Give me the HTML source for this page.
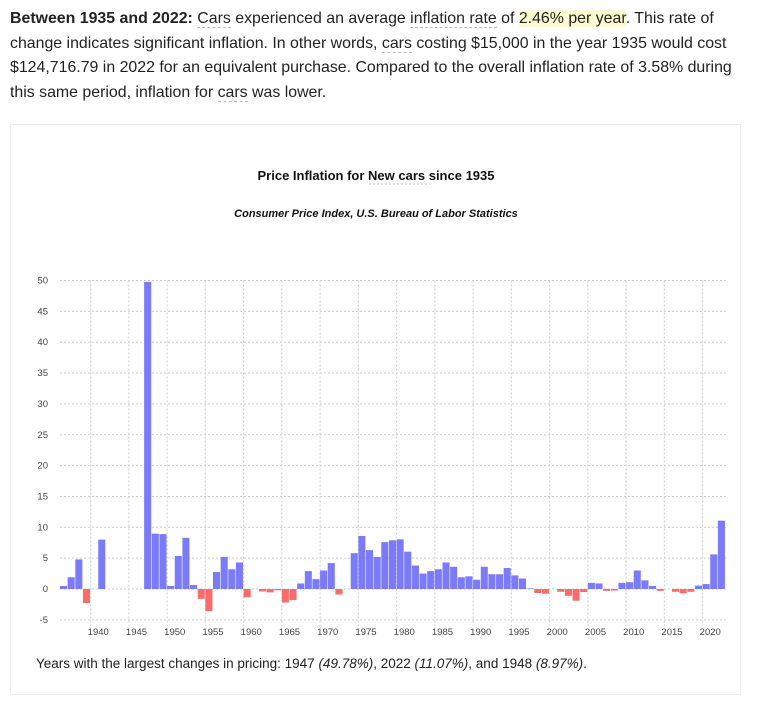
<!DOCTYPE html>
<html><head><meta charset="utf-8">
<style>
body{margin:0;width:765px;height:707px;background:#fff;font-family:"Liberation Sans",sans-serif;color:#222;overflow:hidden;position:relative}
#intro{position:absolute;left:10px;top:7px;width:728px;font-size:15.9px;line-height:24.5px;margin:0}
.u{border-bottom:1px dashed #bbb}
.hl{background:#fdfbd0}
#card{position:absolute;left:10px;top:124px;width:731px;height:571px;border:1px solid #eee;box-sizing:border-box}
#foot{position:absolute;left:36px;top:656px;font-size:13.5px;color:#222}
svg{position:absolute;left:0;top:0}
</style></head><body>
<p id="intro"><b>Between 1935 and 2022:</b> <span class="u">Cars</span> experienced an average <span class="u">inflation rate</span> of <span class="hl">2.46% per year</span>. This rate of change indicates significant inflation. In other words, <span class="u">cars</span> costing $15,000 in the year 1935 would cost $124,716.79 in 2022 for an equivalent purchase. Compared to the overall inflation rate of 3.58% during this same period, inflation for <span class="u">cars</span> was lower.</p>
<div id="card"></div>
<svg id="chart" width="765" height="707">
<text x="376" y="180" text-anchor="middle" font-size="13" font-weight="bold" fill="#111">Price Inflation for New cars since 1935</text>
<line x1="369" x2="430" y1="184" y2="184" stroke="#bbb" stroke-dasharray="2,2"/>
<text x="376" y="217" text-anchor="middle" font-size="11" font-weight="bold" font-style="italic" fill="#111">Consumer Price Index, U.S. Bureau of Labor Statistics</text>
<g id="grid"></g><g id="bars"></g><g id="axes"></g>
</svg>
<div id="foot">Years with the largest changes in pricing: 1947 <i>(49.78%)</i>, 2022 <i>(11.07%)</i>, and 1948 <i>(8.97%)</i>.</div>
<script>
const years=[];for(let y=1936;y<=2022;y++)years.push(y);
const values=[0.5,1.9,4.8,-2.3,0,8.0,0,0,0,0,0,49.78,8.97,8.9,0.5,5.35,8.3,0.65,-1.6,-3.6,2.75,5.2,3.2,4.3,-1.35,0,-0.4,-0.55,-0.2,-2.2,-1.8,0.9,2.9,1.6,3.0,4.2,-0.9,0,5.8,8.6,6.3,5.2,7.6,7.9,8.05,6.05,3.8,2.5,2.9,3.2,4.3,3.6,1.9,2.05,1.5,3.6,2.4,2.4,3.4,2.2,1.7,0.1,-0.65,-0.75,0,-0.45,-1.1,-1.9,-0.5,1.0,0.9,-0.3,-0.25,1.0,1.1,3.0,1.4,0.5,-0.3,0,-0.45,-0.7,-0.45,0.55,0.8,5.6,11.07];
const yTicks=[-5,0,5,10,15,20,25,30,35,40,45,50];
const xTicks=[1940,1945,1950,1955,1960,1965,1970,1975,1980,1985,1990,1995,2000,2005,2010,2015,2020];
const X0=60,BW=7.65,Y0=589,PU=6.17,XR=728;
const xs=y=>X0+(y-1936)*BW;
const ys=v=>Y0-v*PU;
const NS="http://www.w3.org/2000/svg";
function mk(tag,attrs,parent){const e=document.createElementNS(NS,tag);for(const k in attrs)e.setAttribute(k,attrs[k]);parent.appendChild(e);return e;}
const G=document.getElementById('grid'),B=document.getElementById('bars'),A=document.getElementById('axes');
yTicks.forEach(t=>{
 const l=mk('line',{x1:X0,x2:XR,y1:ys(t),y2:ys(t),stroke:'#ccc','stroke-dasharray':'2,2'},G);
 
 
 const tx=mk('text',{x:48,y:ys(t)+3,'text-anchor':'end','font-size':'9.5',fill:'#444'},A);
 tx.textContent=t;
 
 
});
xTicks.forEach(t=>{
 const gx=xs(t);
 const l=mk('line',{x1:gx,x2:gx,y1:ys(50),y2:ys(-5)+6,stroke:'#ccc','stroke-dasharray':'2,2'},G);
 
 
 const tx=mk('text',{x:gx+BW,y:635,'text-anchor':'middle','font-size':'9.5',fill:'#444'},A);
 tx.textContent=t;
 
 
});
years.forEach((y,i)=>{
 const v=values[i];if(v===0)return;
 const top=Math.min(ys(v),Y0),h=Math.abs(ys(v)-Y0);
 const r=mk('rect',{x:xs(y),y:top,width:BW-0.6,height:h,fill:v>0?'#7b7bfa':'#fa6b6b'},B);
 
 
});
</script>
</body></html>
